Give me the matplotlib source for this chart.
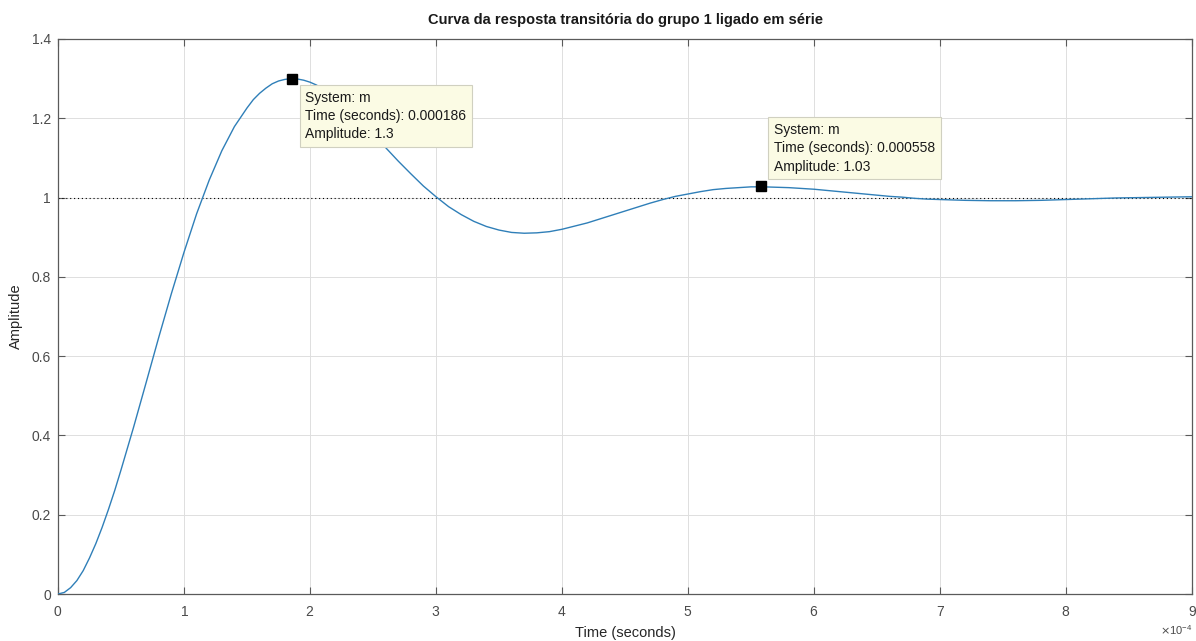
import matplotlib
matplotlib.use("Agg")
import matplotlib.pyplot as plt
from matplotlib.ticker import ScalarFormatter

plt.rcParams['font.family'] = ['Liberation Sans', 'DejaVu Sans']

# Step response of group 1 (series connection)
TIME_UNIT = 1e-4  # time values below are given in units of 1e-4 s
time_e4 = [0.0, 0.05, 0.1, 0.15, 0.2, 0.25, 0.3, 0.35, 0.4, 0.45, 0.5, 0.6, 0.7, 0.8, 0.9,
           1.0, 1.1, 1.2, 1.3, 1.4, 1.5, 1.55, 1.6, 1.65, 1.7, 1.75, 1.8, 1.85, 1.9, 1.95,
           2.0, 2.05, 2.1, 2.15, 2.2, 2.25, 2.3, 2.4, 2.5, 2.6, 2.7, 2.8, 2.9,
           3.0, 3.1, 3.2, 3.3, 3.4, 3.5, 3.6, 3.7, 3.8, 3.9,
           4.0, 4.1, 4.2, 4.3, 4.4, 4.5, 4.6, 4.7, 4.8, 4.9,
           5.0, 5.1, 5.2, 5.3, 5.4, 5.5, 5.6, 5.7, 5.8, 5.9,
           6.0, 6.1, 6.2, 6.3, 6.4, 6.5, 6.6, 6.7, 6.8, 6.9,
           7.0, 7.2, 7.4, 7.6, 7.8, 8.0, 8.2, 8.4, 8.6, 8.8, 9.0]
amplitude = [0.000, 0.004, 0.016, 0.034, 0.059, 0.091, 0.127, 0.168, 0.213, 0.261, 0.313,
             0.421, 0.534, 0.648, 0.758,
             0.862, 0.959, 1.044, 1.118, 1.179, 1.226, 1.247, 1.263, 1.276, 1.287, 1.294,
             1.298, 1.300, 1.299, 1.296,
             1.291, 1.284, 1.275, 1.264, 1.252, 1.239, 1.224, 1.193, 1.160, 1.126, 1.092,
             1.060, 1.029,
             1.002, 0.977, 0.957, 0.940, 0.927, 0.918, 0.912, 0.910, 0.911, 0.914,
             0.920, 0.928, 0.936, 0.946, 0.956, 0.966, 0.976, 0.986, 0.995, 1.003,
             1.009, 1.015, 1.020, 1.023, 1.025, 1.027, 1.027, 1.026, 1.025, 1.023,
             1.021, 1.018, 1.015, 1.012, 1.009, 1.006, 1.003, 1.001, 0.998, 0.996,
             0.995, 0.993, 0.992, 0.992, 0.993, 0.995, 0.997, 0.999, 1.000, 1.001, 1.002]

steady_state = 1.0

# Data tips: (time [s], amplitude)
tip_times = [0.000186, 0.000558]
tip_amps = [1.3, 1.03]
tip_system = "m"

x_ticks_e4 = [0, 1, 2, 3, 4, 5, 6, 7, 8, 9]
y_ticks = [0, 0.2, 0.4, 0.6, 0.8, 1, 1.2, 1.4]

fig = plt.figure(figsize=(11.96, 6.41), dpi=100)
ax = fig.add_axes([0.0485, 0.0733, 0.9482, 0.8659])

t_sec = [v * TIME_UNIT for v in time_e4]
ax.plot(t_sec, amplitude, color='#2f7fb8', lw=1.0, zorder=3)
ax.axhline(steady_state, color='black', lw=0.8, ls=(0, (1, 2.5)), zorder=2)

ax.set_xlim(0, x_ticks_e4[-1] * TIME_UNIT)
ax.set_ylim(0, 1.4)
ax.set_xticks([v * TIME_UNIT for v in x_ticks_e4])
ax.set_yticks(y_ticks)
ax.set_yticklabels(['0', '0.2', '0.4', '0.6', '0.8', '1', '1.2', '1.4'])

fmt = ScalarFormatter(useMathText=True)
fmt.set_powerlimits((0, 0))
ax.xaxis.set_major_formatter(fmt)
ax.xaxis.get_offset_text().set_fontsize(8)
ax.xaxis.get_offset_text().set_color('#606060')

ax.grid(True, color='#dedede', lw=0.7, zorder=0)
ax.set_axisbelow(True)
for s in ax.spines.values():
    s.set_color('#5a5a5a')
    s.set_linewidth(0.9)
ax.tick_params(axis='both', which='both', direction='in', length=5, width=0.8,
               color='#5a5a5a', labelcolor='#4a4a4a', labelsize=10,
               top=True, right=True)
ax.tick_params(axis='x', pad=8)
ax.tick_params(axis='y', pad=5)

ax.set_xlabel('Time (seconds)', fontsize=10.5, color='#262626', labelpad=5)
ax.set_ylabel('Amplitude', fontsize=10.5, color='#262626', labelpad=6)
ax.set_title('Curva da resposta transitória do grupo 1 ligado em série',
             fontsize=10.5, fontweight='bold', color='#1a1a1a', pad=11)

box_style = dict(boxstyle='square,pad=0.42', fc='#fbfbe4', ec='#d0d0c0', lw=0.8)
offsets = [(13, -12), (13, 12)]
valigns = ['top', 'bottom']
for tt, aa, off, va in zip(tip_times, tip_amps, offsets, valigns):
    ax.plot([tt], [aa], marker='s', ms=7.5, color='black', zorder=6,
            clip_on=False)
    label = (f"System: {tip_system}\nTime (seconds): {tt:.6f}\n"
             f"Amplitude: {aa:g}")
    ax.annotate(label, xy=(tt, aa), xytext=off, textcoords='offset pixels',
                ha='left', va=va, fontsize=10, color='#1a1a1a',
                linespacing=1.4, bbox=box_style, zorder=7)

fig.savefig('out.png', dpi=100)
